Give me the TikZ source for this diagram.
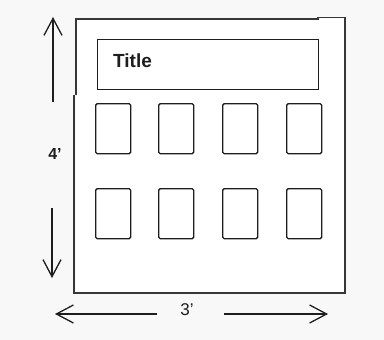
\documentclass[tikz,border=0pt]{standalone}
\usepackage{fontspec}
\setmainfont{Liberation Sans}
\usetikzlibrary{arrows.meta}
\definecolor{bg}{RGB}{248,248,248}
\definecolor{framec}{RGB}{55,55,55}
\definecolor{ink}{RGB}{30,30,30}
\tikzset{
  cell/.style={draw=ink, line width=1.4pt, rounded corners=1.5pt, fill=white, minimum width=35pt, minimum height=50pt, inner sep=0pt},
  titlebox/.style={draw=ink, line width=1.4pt, fill=white, minimum width=221pt, minimum height=50pt, inner sep=0pt},
  dimarrow/.style={draw=ink, line width=1.3pt, -{Straight Barb[length=17pt,width=18pt,line width=1.3pt]}},
}
\begin{document}
\begin{tikzpicture}[x=1pt,y=-1pt]
\fill[bg] (0,0) rectangle (384,340);
\useasboundingbox (0,0) rectangle (384,340);
% outer frame
\fill[white] (76,19) rectangle (345,293);
\draw[framec, line width=1.5pt] (76,95) -- (76,19) -- (318,19) -- (318,17.5) -- (345,17.5) -- (345,293) -- (74,293) -- (74,95);
% title
\node[titlebox, anchor=north west] (title) at (97,39) {};
\node[anchor=base west, font=\fontsize{19}{21}\selectfont\bfseries, text=ink, inner sep=0pt] (titletext) at (113,67) {Title};
% cells
\foreach \i/\x in {1/95,2/158,3/222,4/286} {
  \node[cell, anchor=north west] (a\i) at (\x,103) {};
  \node[cell, anchor=north west] (b\i) at (\x,188) {};
}
% dimension arrows
\coordinate (u0) at (53,102);
\coordinate (u1) at (53,17);
\coordinate (d0) at (52,208);
\coordinate (d1) at (52,278);
\coordinate (l0) at (157,314);
\coordinate (l1) at (55,314);
\coordinate (r0) at (224,314);
\coordinate (r1) at (328,314);
\draw[dimarrow] (u0) -- (u1);
\draw[dimarrow] (d0) -- (d1);
\draw[dimarrow] (l0) -- (l1);
\draw[dimarrow] (r0) -- (r1);
\node[font=\fontsize{16}{18}\selectfont\bfseries, text=ink, inner sep=0pt] (h) at (55,154) {4’};
\node[font=\fontsize{17}{19}\selectfont, text=ink, inner sep=0pt] (w) at (187,310) {3’};
\end{tikzpicture}
\end{document}
